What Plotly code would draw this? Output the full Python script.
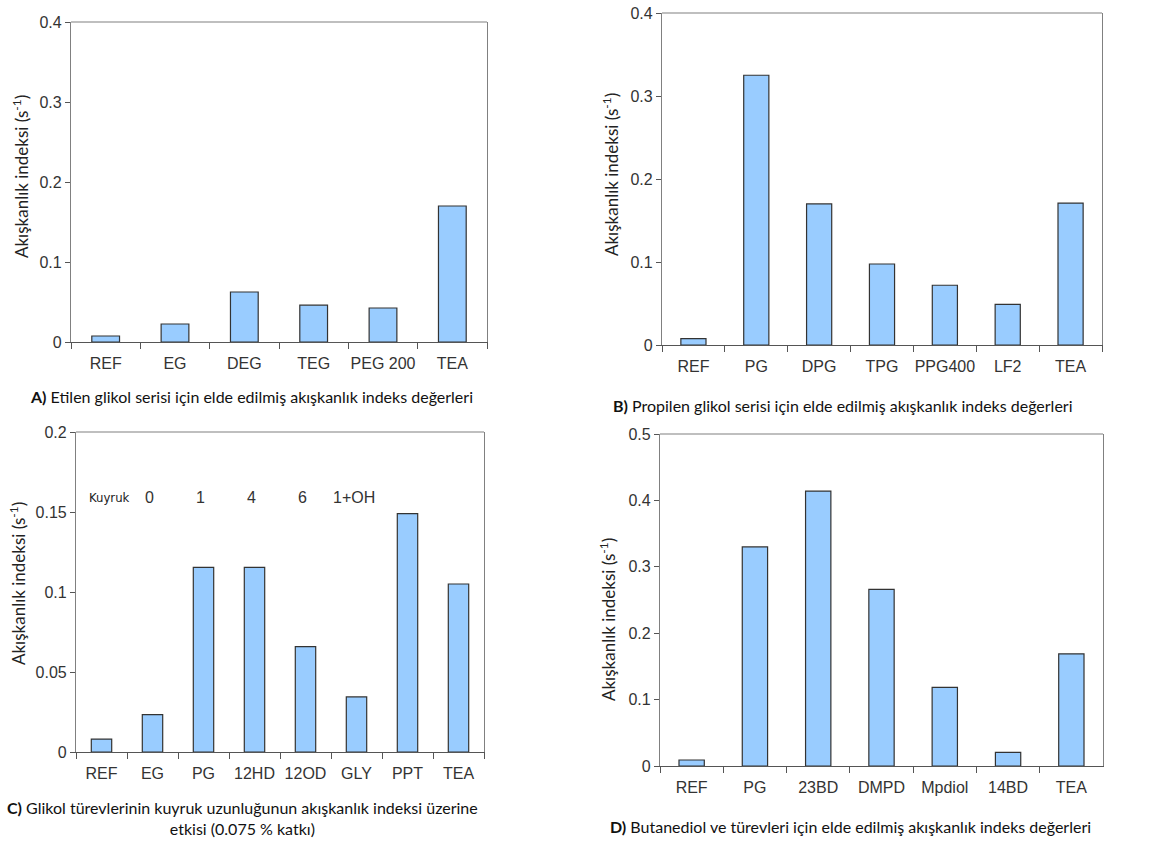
import plotly.graph_objects as go

W, H = 1167, 843

# ---- data ----
cats_a = ["REF", "EG", "DEG", "TEG", "PEG 200", "TEA"]
vals_a = [0.0075, 0.0225, 0.0625, 0.046, 0.0425, 0.170]

cats_b = ["REF", "PG", "DPG", "TPG", "PPG400", "LF2", "TEA"]
vals_b = [0.0076, 0.325, 0.170, 0.0976, 0.072, 0.049, 0.171]

cats_c = ["REF", "EG", "PG", "12HD", "12OD", "GLY", "PPT", "TEA"]
vals_c = [0.0081, 0.0234, 0.1154, 0.1154, 0.0659, 0.0344, 0.149, 0.105]
tail_cats = ["EG", "PG", "12HD", "12OD", "GLY"]
tail_labels = ["0", "1", "4", "6", "1+OH"]

cats_d = ["REF", "PG", "23BD", "DMPD", "Mpdiol", "14BD", "TEA"]
vals_d = [0.009, 0.330, 0.414, 0.266, 0.1185, 0.0206, 0.169]

ytitle = "Akışkanlık indeksi (s<sup>-1</sup>)"
captions = [
    "<b>A)</b> Etilen glikol serisi için elde edilmiş akışkanlık indeks değerleri",
    "<b>B)</b> Propilen glikol serisi için elde edilmiş akışkanlık indeks değerleri",
    "<b>C)</b> Glikol türevlerinin kuyruk uzunluğunun akışkanlık indeksi üzerine<br>etkisi (0.075 % katkı)",
    "<b>D)</b> Butanediol ve türevleri için elde edilmiş akışkanlık indeks değerleri",
]

# ---- layout geometry (pixels) ----
panels = [
    dict(x0=71, x1=487, y0=22, y1=342, ymax=0.4, dtick=0.1),
    dict(x0=662, x1=1102, y0=13, y1=345, ymax=0.4, dtick=0.1),
    dict(x0=76, x1=484, y0=432, y1=752, ymax=0.2, dtick=0.05),
    dict(x0=660, x1=1103, y0=434, y1=766, ymax=0.5, dtick=0.1),
]
ytitle_pos = [(20, 177), (610, 175), (17, 584), (607, 620)]
caption_pos = [(251, 397), (843, 405), (242, 818), (850, 826)]

BAR_FILL = "#99CCFF"
BAR_LINE = "#333333"
AXIS = "#808080"
TICKFONT = dict(family="Liberation Sans, Arial", size=16, color="#333333")
LABFONT = dict(family="Lato, Carlito, Calibri", size=17, color="#222222")

fig = go.Figure()
data = [(cats_a, vals_a), (cats_b, vals_b), (cats_c, vals_c), (cats_d, vals_d)]
annotations = []
shapes = []
for i, ((cats, vals), p) in enumerate(zip(data, panels)):
    n = "" if i == 0 else str(i + 1)
    fig.add_trace(go.Bar(
        x=cats, y=vals, xaxis="x" + n, yaxis="y" + n,
        marker=dict(color=BAR_FILL, line=dict(color=BAR_LINE, width=1.2)),
        showlegend=False, hoverinfo="x+y",
    ))
    fig.layout["xaxis" + n] = dict(
        domain=[p["x0"] / W, p["x1"] / W], anchor="y" + n, automargin=False,
        type="category", categoryorder="array", categoryarray=cats,
        tickson="boundaries", ticks="outside", ticklen=6, tickcolor="#555555",
        showline=True, linecolor="#555555", linewidth=1.2,
        showgrid=False, tickfont=TICKFONT, ticklabelstandoff=7, tickangle=0,
    )
    fig.layout["yaxis" + n] = dict(
        domain=[1 - p["y1"] / H, 1 - p["y0"] / H], anchor="x" + n, automargin=False,
        range=[0, p["ymax"]], dtick=p["dtick"], tick0=0,
        ticks="outside", ticklen=5, tickcolor="#555555",
        showline=True, linecolor=AXIS, linewidth=1.2, mirror=True,
        showgrid=False, zeroline=False, tickfont=TICKFONT,
    )
    annotations.append(dict(
        xref="paper", yref="paper", x=ytitle_pos[i][0] / W, y=1 - ytitle_pos[i][1] / H,
        text=ytitle, textangle=-90, showarrow=False, font=LABFONT,
        xanchor="center", yanchor="middle",
    ))
    annotations.append(dict(
        xref="paper", yref="paper", x=caption_pos[i][0] / W, y=1 - caption_pos[i][1] / H,
        text=captions[i], showarrow=False,
        font=dict(family="Lato, Carlito, Calibri", size=16, color="#111111"),
        xanchor="center", yanchor="middle", align="center",
    ))
    shapes.append(dict(type="line", xref="paper", yref="paper",
                       x0=p["x0"] / W, x1=p["x1"] / W, y0=1 - p["y0"] / H, y1=1 - p["y0"] / H,
                       line=dict(color=AXIS, width=1.2)))

# Kuyruk annotations in panel C
annotations.append(dict(
    xref="x3", yref="y3", x="REF", y=0.159, xshift=8, text="Kuyruk", showarrow=False,
    font=dict(family="DejaVu Sans Condensed, Liberation Sans", size=13, color="#222222"),
))
for c, t in zip(tail_cats, tail_labels):
    annotations.append(dict(
        xref="x3", yref="y3", x=c, y=0.159, text=t, showarrow=False,
        xshift=-3, font=dict(family="Liberation Sans, Arial", size=16, color="#333333"),
    ))

fig.update_layout(
    width=W, height=H, margin=dict(l=0, r=0, t=0, b=0, autoexpand=False),
    paper_bgcolor="white", plot_bgcolor="white",
    bargap=0.6, annotations=annotations, shapes=shapes,
)
fig.write_html("out.html", config={"displayModeBar": False},
               post_script="document.body.style.margin='0px';document.body.style.overflow='hidden';")
